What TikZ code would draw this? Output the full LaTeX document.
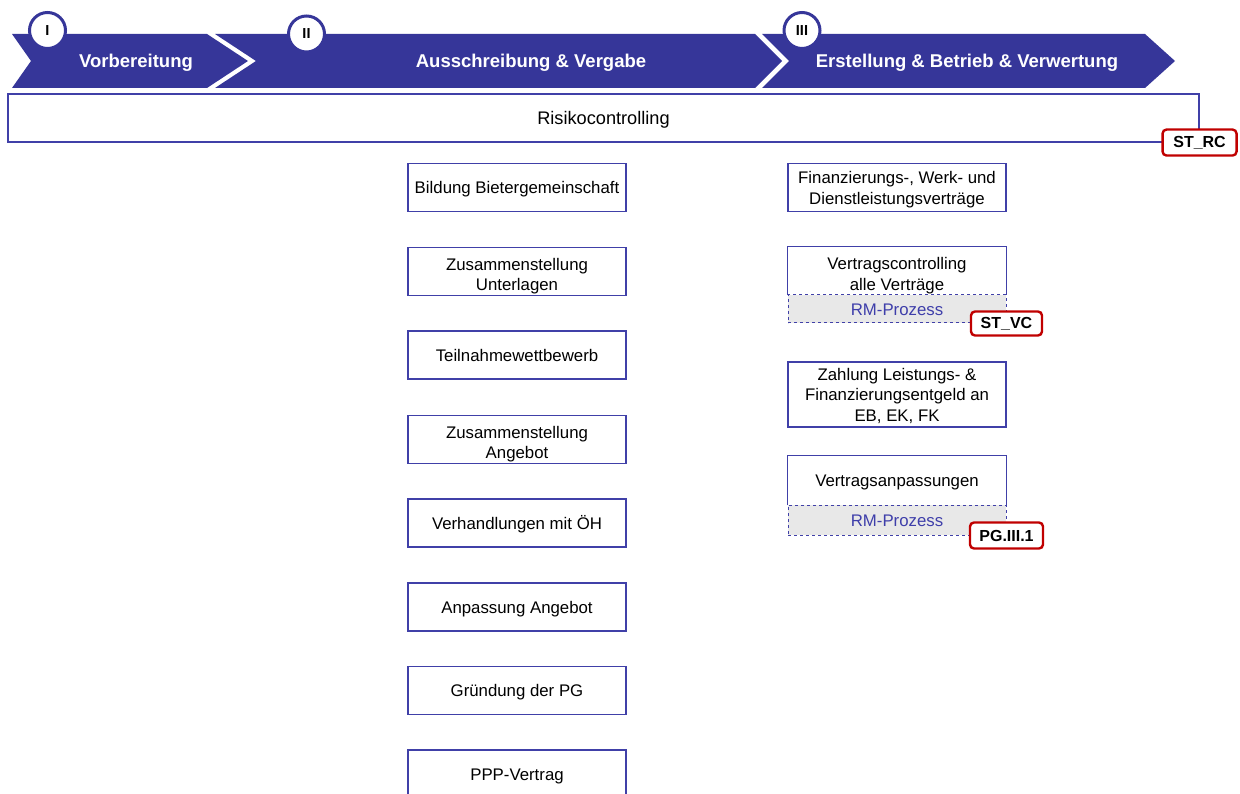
\documentclass[tikz,border=0pt]{standalone}
\usepackage{fontspec}
\setmainfont{Liberation Sans}
\definecolor{chevblue}{RGB}{54,54,153}
\definecolor{lineblue}{RGB}{64,64,168}
\definecolor{rmblue}{RGB}{62,62,170}
\definecolor{rmgrey}{RGB}{232,232,232}
\definecolor{tagred}{RGB}{192,0,0}
\newcommand{\topst}{\rule{0pt}{17.6pt}}
\newcommand{\mtopst}{\rule{0pt}{23pt}}
\newcommand{\botst}{\rule[-5pt]{0pt}{5pt}}
\begin{document}
\begin{tikzpicture}[x=1pt,y=-1pt,
  chev/.style={fill=chevblue,draw=none},
  chevtext/.style={text=white,font=\bfseries\fontsize{18.5}{22}\selectfont,inner sep=0pt},
  numcircle/.style={circle,fill=white,draw=chevblue,line width=3pt,minimum size=36pt,inner sep=0pt,font=\bfseries\fontsize{14.5}{16}\selectfont},
  procbox/.style={rectangle,draw=lineblue,line width=1.1pt,fill=white,minimum width=218pt,minimum height=48pt,inner sep=0pt,align=center,font=\fontsize{16.8}{20.5}\selectfont},
  toppart/.style={rectangle,draw=none,minimum width=218pt,minimum height=48pt,inner sep=0pt,align=center,font=\fontsize{16.8}{20.5}\selectfont},
  rmpart/.style={rectangle,draw=lineblue,dashed,line width=1pt,fill=rmgrey,minimum width=218pt,inner sep=0pt,text=rmblue,font=\fontsize{16.8}{20.5}\selectfont},
  tagbox/.style={rectangle,draw=tagred,line width=2.4pt,rounded corners=4pt,fill=white,inner sep=0pt,minimum height=24pt,font=\bfseries\fontsize{16}{18}\selectfont},
  boxline/.style={draw=lineblue,line width=1.1pt}
]
\useasboundingbox (0,0) rectangle (1240,794);
\clip (0,0) rectangle (1240,794);

% chevrons
\fill[chev] (12,34) -- (207,34) -- (248,61) -- (207,88) -- (12,88) -- (31,61) -- cycle;
\fill[chev] (215,34) -- (755,34) -- (782,61) -- (755,88) -- (215,88) -- (256,61) -- cycle;
\fill[chev] (762,34) -- (1145,34) -- (1175,61) -- (1145,88) -- (762,88) -- (789,61) -- cycle;

\node[chevtext] (t1) at (136,62.5) {Vorbereitung};
\node[chevtext] (t2) at (531,62.5) {Ausschreibung \& Vergabe};
\node[chevtext] (t3) at (967,62.5) {Erstellung \& Betrieb \& Verwertung};

\node[numcircle] (c1) at (47.5,30.5) {I};
\node[numcircle] (c2) at (306.5,34) {II};
\node[numcircle] (c3) at (802,30.5) {III};

% Risikocontrolling
\node[procbox,minimum width=1191pt,font=\fontsize{18.2}{21}\selectfont] (rc) at (603.5,118) {\topst Risikocontrolling\botst};
\node[tagbox,minimum width=74pt,minimum height=26pt] (strc) at (rc.south east) {ST\_RC};

% left column
\node[procbox] (l1) at (517,187.5) {\topst Bildung Bietergemeinschaft\botst};
\node[procbox] (l2) at (517,271.5) {\mtopst Zusammenstellung\\Unterlagen\botst};
\node[procbox] (l3) at (517,355) {\topst Teilnahmewettbewerb\botst};
\node[procbox] (l4) at (517,439.5) {\mtopst Zusammenstellung\\Angebot\botst};
\node[procbox] (l5) at (517,523) {\topst Verhandlungen mit ÖH\botst};
\node[procbox] (l6) at (517,607) {\topst Anpassung Angebot\botst};
\node[procbox] (l7) at (517,690.5) {\topst Gründung der PG\botst};
\node[procbox] (l8) at (517,774) {\topst PPP-Vertrag\botst};

% right column
\node[procbox] (r1) at (897,187.5) {\topst Finanzierungs-, Werk- und\\Dienstleistungsverträge\botst};

\node[toppart] (r2) at (897,271) {\mtopst Vertragscontrolling\\alle Verträge\botst};
\node[rmpart,minimum height=28pt] (r2rm) at (897,309) {\topst RM-Prozess\botst};
\draw[boxline] (r2.south west) -- (r2.north west) -- (r2.north east) -- (r2.south east);
\node[tagbox,minimum width=71pt] (stvc) at (r2rm.south east) {ST\_VC};

\node[procbox,minimum height=65pt] (r3) at (897,394.5) {\topst Zahlung Leistungs- \&\\Finanzierungsentgeld an\\EB, EK, FK\botst};

\node[toppart,minimum height=49pt] (r4) at (897,480.5) {\topst Vertragsanpassungen\botst};
\node[rmpart,minimum height=30pt] (r4rm) at (897,520) {\topst RM-Prozess\botst};
\draw[boxline] (r4.south west) -- (r4.north west) -- (r4.north east) -- (r4.south east);
\node[tagbox,minimum width=73pt,minimum height=26pt] (pg) at (r4rm.south east) {PG.III.1};
\end{tikzpicture}
\end{document}
